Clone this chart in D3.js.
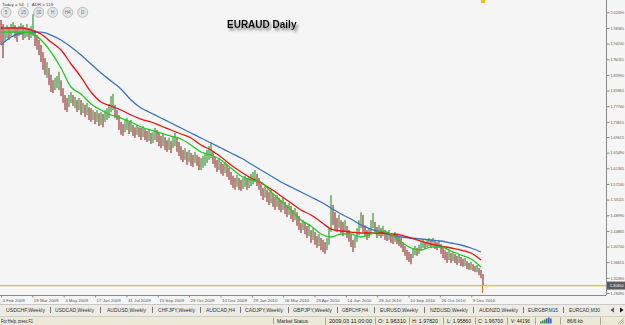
<!DOCTYPE html>
<html><head><meta charset="utf-8">
<script src="https://cdn.jsdelivr.net/npm/d3@7"></script>
<style>html,body{margin:0;padding:0;background:#f5f5f5;overflow:hidden}svg{display:block}</style>
</head><body><svg id="c" width="625" height="325"></svg>
<script>
// ---------- DATA ----------
const highs=[2.005,1.994,1.984,1.991,1.986,1.994,1.999,1.991,1.984,1.989,1.996,1.991,1.986,1.994,1.984,1.989,2.020,1.978,
1.965,1.952,1.939,1.920,1.904,1.894,1.878,1.860,1.846,1.852,1.857,1.868,1.846,1.825,1.807,1.799,1.807,1.815,1.807,1.802,1.794,1.799,1.794,1.786,1.781,1.786,1.775,1.772,1.767,1.762,1.767,1.759,
1.762,1.757,1.767,1.772,1.783,1.804,1.810,1.781,1.767,1.754,1.736,1.730,1.741,1.746,1.736,1.741,1.728,1.722,1.728,1.722,1.720,1.725,1.717,1.712,1.715,1.707,1.709,1.720,1.715,1.707,1.699,1.704,1.696,1.688,1.694,1.686,1.699,1.707,1.694,1.683,1.672,1.662,1.667,1.657,1.662,1.654,1.649,1.657,1.649,1.644,
1.641,1.646,1.651,1.662,1.672,1.683,1.657,1.644,1.636,1.641,1.630,1.625,1.630,1.622,1.615,1.604,1.594,1.588,1.596,1.588,1.583,1.588,1.594,1.586,1.591,1.599,1.604,1.609,1.599,1.588,1.572,1.562,1.567,1.557,1.551,1.557,1.546,1.538,1.543,1.536,1.530,1.536,1.525,1.517,1.522,1.514,1.504,1.509,1.498,1.488,
1.470,1.477,1.472,1.462,1.467,1.451,1.456,1.446,1.435,1.440,1.430,1.425,1.419,1.430,1.456,1.543,1.517,1.498,1.483,1.491,1.477,1.472,1.477,1.462,1.451,1.438,1.425,1.435,1.456,1.477,1.498,1.491,1.464,1.451,1.456,1.477,1.496,1.472,1.459,1.464,1.456,1.462,1.451,1.446,1.451,1.443,1.438,1.446,1.440,1.435,
1.430,1.419,1.409,1.398,1.393,1.388,1.404,1.409,1.404,1.412,1.419,1.425,1.419,1.425,1.430,1.425,1.430,1.425,1.419,1.425,1.414,1.404,1.398,1.393,1.398,1.391,1.393,1.388,1.383,1.388,1.380,1.375,1.377,1.369,1.364,1.367,1.361,1.356,1.359,1.351,1.346,1.335];
const lows=[1.939,1.904,1.947,1.957,1.952,1.962,1.970,1.957,1.947,1.962,1.965,1.952,1.957,1.960,1.952,1.957,1.962,1.936,
1.926,1.912,1.894,1.873,1.860,1.852,1.833,1.815,1.812,1.820,1.825,1.820,1.804,1.786,1.767,1.762,1.775,1.786,1.778,1.772,1.762,1.767,1.754,1.759,1.749,1.754,1.741,1.736,1.741,1.730,1.736,1.725,
1.728,1.722,1.736,1.741,1.746,1.762,1.767,1.746,1.741,1.715,1.702,1.699,1.709,1.715,1.704,1.709,1.699,1.694,1.702,1.696,1.688,1.696,1.688,1.683,1.686,1.678,1.680,1.688,1.683,1.672,1.667,1.672,1.662,1.657,1.662,1.654,1.667,1.672,1.657,1.646,1.636,1.630,1.636,1.622,1.630,1.620,1.617,1.628,1.620,1.609,
1.609,1.615,1.620,1.628,1.636,1.641,1.625,1.615,1.604,1.609,1.599,1.594,1.601,1.591,1.583,1.570,1.562,1.557,1.565,1.557,1.554,1.559,1.565,1.557,1.562,1.567,1.572,1.578,1.567,1.557,1.541,1.530,1.536,1.525,1.517,1.522,1.512,1.504,1.512,1.504,1.498,1.504,1.493,1.485,1.491,1.480,1.472,1.477,1.462,1.451,
1.443,1.451,1.440,1.430,1.435,1.417,1.425,1.412,1.404,1.409,1.398,1.393,1.388,1.398,1.412,1.446,1.464,1.451,1.446,1.456,1.443,1.435,1.446,1.430,1.420,1.406,1.393,1.404,1.420,1.438,1.456,1.446,1.435,1.425,1.430,1.443,1.456,1.440,1.430,1.435,1.430,1.435,1.425,1.422,1.425,1.417,1.414,1.420,1.414,1.409,
1.404,1.393,1.383,1.372,1.367,1.361,1.377,1.385,1.383,1.388,1.398,1.404,1.401,1.406,1.409,1.404,1.409,1.401,1.398,1.404,1.388,1.377,1.372,1.364,1.372,1.364,1.369,1.364,1.359,1.364,1.356,1.354,1.356,1.348,1.346,1.346,1.343,1.340,1.340,1.332,1.324,1.306];
const dirs="rrggrggrrggrggrggr"+"rrrrrgrrrgggrrrrggrgrgrgrgrrgrgr"+
"grgggggrrr"+"rrggrgrrgr"+"rgrrgrggrr"+"rgrrgrggrr"+"rrgrgrrgrr"+
"ggggggrrrg"+"rrgrrrrrgr"+"rggrggggrr"+"rrgrrgrrgr"+"rgrrgrrgrr"+
"rgrrgrgrrg"+"rrrgggrrrg"+"rrgrrrrggg"+"grrrgggrrg"+"rgrrgrrgrr"+
"rrrrrrggrg"+"ggrggrgrrg"+"rrrrgrgrrg"+"rrgrrgrrgr"+"rr";
// moving averages, one value every 5 bars
const maBlue=[1.9387,1.9598,1.9703,1.9729,1.9729,1.9650,1.9519,1.9334,1.9123,1.8886,1.8649,1.8438,1.8227,1.7937,1.7726,1.7594,1.7462,1.7331,1.7199,1.7067,1.6935,1.6804,1.6672,1.6540,1.6408,1.6250,1.6092,1.5934,1.5776,1.5644,1.5512,1.5380,1.5248,1.5090,1.4932,1.4800,1.4642,1.4536,1.4457,1.4378,1.4326,1.4299,1.4273,1.4247,1.4220,1.4168,1.4115,1.4036,1.3930];
const maRed=[1.9835,1.9835,1.9835,1.9782,1.9677,1.9466,1.9255,1.8886,1.8543,1.8148,1.7884,1.7779,1.7673,1.7542,1.7436,1.7357,1.7252,1.7146,1.7041,1.6935,1.6751,1.6619,1.6434,1.6224,1.6039,1.5881,1.5749,1.5591,1.5406,1.5222,1.5037,1.4906,1.4721,1.4536,1.4484,1.4457,1.4431,1.4431,1.4431,1.4405,1.4378,1.4299,1.4220,1.4141,1.4088,1.4036,1.3983,1.3904,1.3720];
const maGreen=[1.9729,1.9729,1.9729,1.9703,1.9519,1.9202,1.8781,1.8280,1.8095,1.7832,1.7673,1.7542,1.7462,1.7357,1.7225,1.7146,1.7067,1.6988,1.6909,1.6751,1.6566,1.6487,1.6356,1.6145,1.5934,1.5828,1.5776,1.5512,1.5275,1.5037,1.4774,1.4615,1.4405,1.4326,1.4405,1.4405,1.4326,1.4405,1.4484,1.4405,1.4194,1.4036,1.3983,1.4062,1.4062,1.3957,1.3851,1.3746,1.3535];
const priceTicks=[2.02490,1.98365,1.94240,1.90115,1.85990,1.81865,1.77740,1.73615,1.69615,1.65490,1.61365,1.57240,1.53115,1.48990,1.44865,1.40740,1.36615,1.32490,1.28490];
const currentPrice=1.30450;
const dateLabels=["3 Feb 2009","19 Mar 2009","4 May 2009","17 Jun 2009","31 Jul 2009","15 Sep 2009","29 Oct 2009","14 Dec 2009","29 Jan 2010","16 Mar 2010","29 Apr 2010","14 Jun 2010","28 Jul 2010","10 Sep 2010","26 Oct 2010","9 Dec 2010"];
const tfButtons=["5","15","30","H","H4","D"];
const tabLabels=["USDCHF,Weekly","USDCAD,Weekly","AUDUSD,Weekly","CHFJPY,Weekly","AUDCAD,H4","CADJPY,Weekly","GBPJPY,Weekly","GBPCHF,H4","EURUSD,Weekly","NZDUSD,Weekly","AUDNZD,Weekly","EURGBP,M15","EURCAD,M30"];
const statusTexts=["Market Status","2009.03.11 00:00","O: 1.96310","H: 1.97820","L: 1.95860","C: 1.96700","V: 44196","86/6 kb"];

// ---------- LAYOUT ----------
const FONT="'Liberation Sans', Arial, sans-serif";
const svg=d3.select('#c');
const W=625,H=325,plotR=606,plotB=295;
svg.append('rect').attr('width',W).attr('height',H).attr('fill','#f5f5f5');

const x=d3.scaleLinear().domain([0,highs.length-1]).range([1,483]);
const y=d3.scaleLinear().domain([2.05732,1.28761]).range([0,292]);

const defs=svg.append('defs');
const f=defs.append('filter').attr('id','sh').attr('x','-20%').attr('y','-50%').attr('width','140%').attr('height','200%');
f.append('feDropShadow').attr('dx',2).attr('dy',2.5).attr('stdDeviation',1.3).attr('flood-color','#666').attr('flood-opacity',0.8);

// candles
svg.append('g').selectAll('rect').data(highs).join('rect')
  .attr('x',(d,i)=>x(i)-0.9).attr('width',1.8)
  .attr('y',d=>y(d)).attr('height',(d,i)=>Math.max(1,y(lows[i])-y(d)))
  .attr('fill',(d,i)=>dirs[i]==='g'?'#5aa65a':'#aa5a5a').attr('opacity',0.8);

// moving averages
const line=d3.line().x((d,j)=>x(j*5)).y(d=>y(d)).curve(d3.curveMonotoneX);
[[maBlue,'#3a74c0'],[maRed,'#ee1111'],[maGreen,'#22c922']].forEach(([s,c])=>{
  svg.append('path').datum(s).attr('d',line).attr('fill','none').attr('stroke',c).attr('stroke-width',1.3);
});

// current price line
svg.append('line').attr('x1',0).attr('x2',plotR).attr('y1',y(currentPrice)).attr('y2',y(currentPrice))
  .attr('stroke','#f2c200').attr('stroke-width',1.2);
// small markers
svg.append('rect').attr('x',481).attr('y',0).attr('width',4).attr('height',3).attr('fill','#f2c200');
svg.append('path').attr('d',`M482.5,${y(currentPrice)}L482.5,${plotB-2}`).attr('stroke','#e07020').attr('stroke-width',1);

// right price axis
svg.append('line').attr('x1',plotR+0.5).attr('x2',plotR+0.5).attr('y1',0).attr('y2',plotB).attr('stroke','#8a8a8a');
svg.append('line').attr('x1',0).attr('x2',plotR).attr('y1',plotB+0.5).attr('y2',plotB+0.5).attr('stroke','#8a8a8a');
const gy=svg.append('g').attr('transform',`translate(${plotR+0.5},0)`)
  .call(d3.axisRight(y).tickValues(priceTicks).tickSize(3).tickSizeOuter(0).tickFormat(d3.format('.5f')));
gy.select('.domain').remove();
gy.selectAll('line').attr('stroke','#8a8a8a');
gy.selectAll('text').attr('font-size',4).attr('fill','#555').attr('font-family',FONT).attr('x',4)
  .attr('textLength',13.5).attr('lengthAdjust','spacingAndGlyphs');

// current price tag
svg.append('rect').attr('x',607).attr('y',y(currentPrice)-4).attr('width',18).attr('height',8).attr('fill','#5c5c5c');
svg.append('text').attr('x',610).attr('y',y(currentPrice)+1.5).attr('font-size',4).attr('fill','#fff')
  .attr('textLength',13.5).attr('lengthAdjust','spacingAndGlyphs')
  .attr('font-family',FONT).text(d3.format('.5f')(currentPrice));

// bottom date axis
const xd=d3.scalePoint().domain(dateLabels).range([1,1+15*31.35]);
const gx=svg.append('g').attr('transform',`translate(0,${plotB+0.5})`)
  .call(d3.axisBottom(xd).tickSize(2).tickSizeOuter(0));
gx.select('.domain').remove();
gx.selectAll('line').attr('stroke','#8a8a8a');
gx.selectAll('text').attr('font-size',4.4).attr('fill','#555').attr('font-family',FONT)
  .attr('text-anchor','start').attr('x',1).attr('y',3);

// top-left info
svg.append('text').attr('x',2).attr('y',5.5).attr('font-size',4.4).attr('fill','#444').attr('font-family',FONT)
  .attr('xml:space','preserve').text('Today = 54   |   ADR = 119');
const bx=[6,23.3,38.7,52.7,67.7,82.7];
const gb=svg.append('g').selectAll('g').data(tfButtons).join('g').attr('transform',(d,i)=>`translate(${bx[i]},12.3)`);
gb.append('circle').attr('r',5).attr('fill','#e4e4e4').attr('stroke','#bdbdbd').attr('stroke-width',1);
gb.append('text').attr('text-anchor','middle').attr('y',1.6).attr('font-size',4.6).attr('fill','#5a7f8a')
  .attr('font-family',FONT).text(d=>d);

// title
svg.append('text').attr('x',227).attr('y',28).attr('font-size',10).attr('font-weight','bold')
  .attr('font-family',FONT).attr('fill','#000').attr('filter','url(#sh)').text('EURAUD Daily');

// tab strip
svg.append('rect').attr('x',0).attr('y',304).attr('width',W).attr('height',12).attr('fill','#ecebe6');
svg.append('line').attr('x1',0).attr('x2',W).attr('y1',304.5).attr('y2',304.5).attr('stroke','#c8c8c8');
const tabX=[[6,39],[55,39],[107,39],[158,37],[206,29],[245,38],[293,39],[342,26],[380,38],[430,38],[479,39],[528,30],[569,31]];
const sepX=[50,100,152,200,240,288,337,374,424,473,523,563];
svg.append('g').selectAll('text').data(tabLabels).join('text')
  .attr('x',(d,i)=>tabX[i][0]).attr('y',312).attr('textLength',(d,i)=>tabX[i][1]).attr('lengthAdjust','spacingAndGlyphs')
  .attr('font-size',5).attr('fill','#333').attr('font-family',FONT).text(d=>d);
svg.append('g').selectAll('line').data(sepX).join('line')
  .attr('x1',d=>d+0.5).attr('x2',d=>d+0.5).attr('y1',307).attr('y2',313).attr('stroke','#777');
svg.append('path').attr('d','M614,307.5L610.5,310L614,312.5Z').attr('fill','#555');
svg.append('path').attr('d','M620,307.5L623.5,310L620,312.5Z').attr('fill','#111');

// status bar
svg.append('rect').attr('x',0).attr('y',316).attr('width',W).attr('height',9).attr('fill','#ece9d8');
svg.append('line').attr('x1',0).attr('x2',W).attr('y1',316.5).attr('y2',316.5).attr('stroke','#d0cdbd');
svg.append('text').attr('x',1).attr('y',322.5).attr('textLength',32).attr('lengthAdjust','spacingAndGlyphs')
  .attr('font-size',5).attr('fill','#222').attr('font-family',FONT).text('For Help, press F1');
const stX=[[277,31],[329,43],[378,28],[412,26],[447,24],[478,25],[511,19],[567,16]];
svg.append('g').selectAll('text').data(statusTexts).join('text')
  .attr('x',(d,i)=>stX[i][0]).attr('y',322.5).attr('textLength',(d,i)=>stX[i][1]).attr('lengthAdjust','spacingAndGlyphs')
  .attr('font-size',5).attr('fill','#222').attr('font-family',FONT).text(d=>d);
[273,325,375,409,443,475,507,535,560,600].forEach(px=>{
  svg.append('line').attr('x1',px+0.5).attr('x2',px+0.5).attr('y1',317.5).attr('y2',324.5).attr('stroke','#a8a597');
});
// connection icon
const ic=svg.append('g').attr('transform','translate(540,317.5)');
[[0,4],[2,3],[4,2],[6,1],[8,0],[10,1]].forEach(([dx,dy])=>{
  ic.append('rect').attr('x',dx).attr('y',dy).attr('width',1.6).attr('height',6-dy).attr('fill',dx<6?'#3c8a3c':'#4060b0');
});
// size grip
svg.append('path').attr('d','M618,324L624,318M620,324L624,320M622,324L624,322').attr('stroke','#a8a597').attr('stroke-width',0.8);
</script></body></html>
